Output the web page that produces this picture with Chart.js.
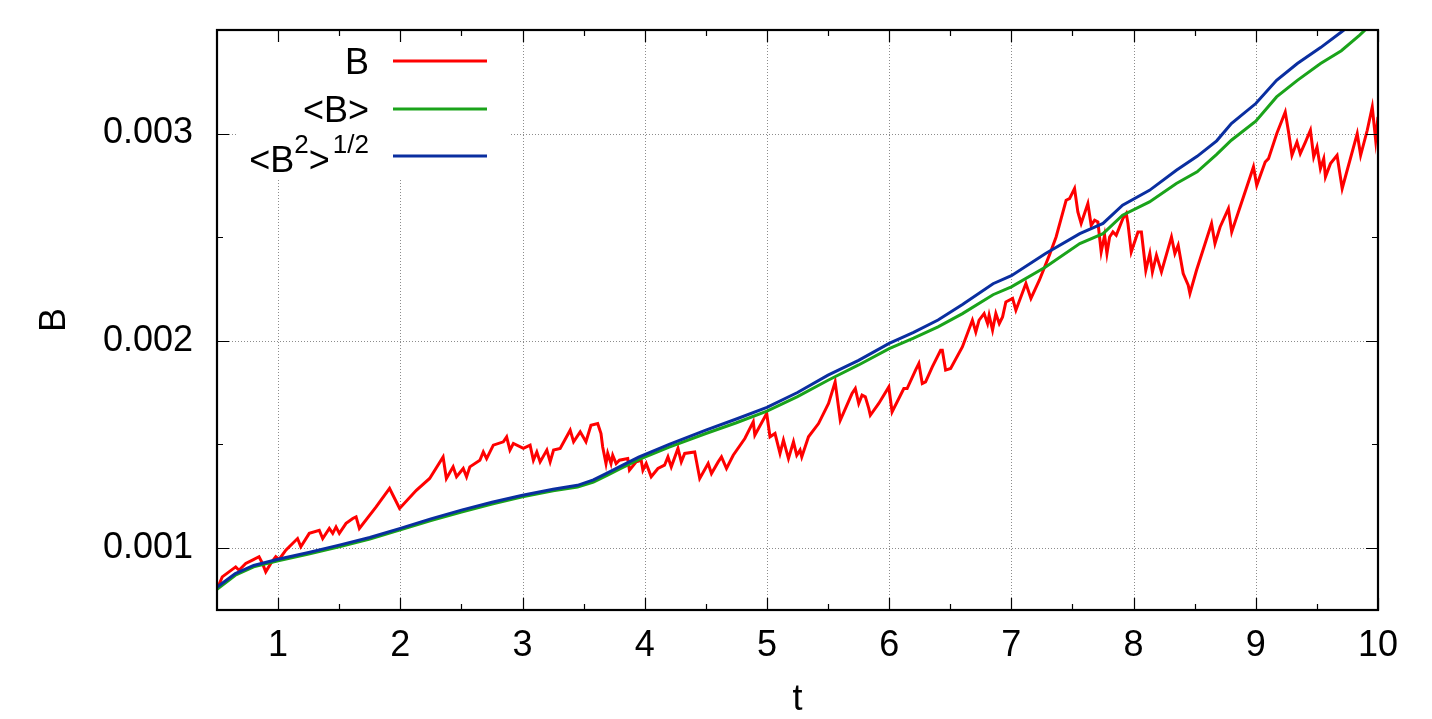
<!DOCTYPE html>
<html>
<head>
<meta charset="utf-8">
<script src="https://cdn.jsdelivr.net/npm/chart.js@4.4.0/dist/chart.umd.min.js"></script>
<style>
  html, body { margin: 0; padding: 0; background: #fff; }
  #wrap { width: 1432px; height: 719px; }
</style>
</head>
<body>
<div id="wrap"><canvas id="graphCanvas" width="1432" height="719"></canvas></div>
<script>
// values of B are in units of 1e-3
var SCALE = 1e-3;

var tRed = [0.5, 0.543, 0.598, 0.653, 0.680, 0.735, 0.790, 0.844, 0.872, 0.899, 0.940, 0.981, 1.008, 1.063, 1.159, 1.186, 1.255, 1.337, 1.365, 1.419,
  1.447, 1.474, 1.501, 1.556, 1.611, 1.638, 1.665, 1.802, 1.912, 1.940, 1.994, 2.131, 2.240, 2.350, 2.377, 2.432, 2.460, 2.515, 2.542, 2.569,
  2.651, 2.679, 2.706, 2.761, 2.843, 2.870, 2.897, 2.925, 3.007, 3.062, 3.089, 3.117, 3.144, 3.199, 3.226, 3.254, 3.308, 3.390, 3.418, 3.472,
  3.519, 3.560, 3.615, 3.642, 3.656, 3.683, 3.697, 3.724, 3.738, 3.766, 3.793, 3.861, 3.875, 3.930, 3.971, 3.985, 4.012, 4.053, 4.108, 4.162,
  4.190, 4.217, 4.272, 4.299, 4.327, 4.409, 4.450, 4.519, 4.546, 4.601, 4.628, 4.669, 4.724, 4.819, 4.888, 4.901, 4.998, 5.025, 5.066, 5.107,
  5.135, 5.176, 5.217, 5.244, 5.271, 5.285, 5.340, 5.422, 5.504, 5.558, 5.600, 5.696, 5.723, 5.751, 5.778, 5.805, 5.833, 5.846, 5.915, 5.997,
  6.024, 6.120, 6.147, 6.216, 6.243, 6.271, 6.298, 6.353, 6.421, 6.435, 6.462, 6.503, 6.599, 6.681, 6.709, 6.736, 6.777, 6.805, 6.818, 6.846,
  6.873, 6.901, 6.928, 6.955, 7.010, 7.037, 7.119, 7.160, 7.229, 7.311, 7.366, 7.448, 7.476, 7.517, 7.544, 7.571, 7.626, 7.653, 7.681, 7.708,
  7.735, 7.763, 7.782, 7.804, 7.831, 7.858, 7.913, 7.940, 7.954, 7.981, 8.036, 8.064, 8.100, 8.133, 8.154, 8.187, 8.228, 8.310, 8.338, 8.365,
  8.406, 8.447, 8.461, 8.515, 8.638, 8.666, 8.708, 8.776, 8.803, 8.981, 9.008, 9.077, 9.104, 9.172, 9.241, 9.268, 9.296, 9.337, 9.364, 9.406,
  9.447, 9.474, 9.501, 9.529, 9.556, 9.570, 9.611, 9.665, 9.707, 9.830, 9.858, 9.912, 9.953, 9.981, 10.0];
var bRed = [0.800, 0.860, 0.884, 0.908, 0.892, 0.925, 0.941, 0.957, 0.925, 0.884, 0.925, 0.957, 0.944, 0.989, 1.045, 1.005, 1.070, 1.085, 1.045, 1.094,
  1.070, 1.101, 1.070, 1.118, 1.142, 1.150, 1.094, 1.198, 1.287, 1.254, 1.190, 1.278, 1.335, 1.439, 1.335, 1.391, 1.343, 1.383, 1.343, 1.391,
  1.423, 1.463, 1.431, 1.496, 1.512, 1.536, 1.472, 1.504, 1.480, 1.496, 1.423, 1.463, 1.415, 1.472, 1.415, 1.472, 1.480, 1.568, 1.512, 1.560,
  1.512, 1.592, 1.600, 1.552, 1.487, 1.407, 1.456, 1.407, 1.447, 1.407, 1.423, 1.431, 1.375, 1.415, 1.423, 1.375, 1.407, 1.343, 1.383, 1.399,
  1.439, 1.391, 1.480, 1.415, 1.456, 1.463, 1.335, 1.407, 1.359, 1.415, 1.439, 1.383, 1.447, 1.528, 1.608, 1.544, 1.649, 1.536, 1.552, 1.456,
  1.520, 1.431, 1.512, 1.447, 1.472, 1.439, 1.536, 1.600, 1.697, 1.801, 1.616, 1.745, 1.769, 1.697, 1.737, 1.729, 1.673, 1.640, 1.697, 1.777,
  1.656, 1.769, 1.769, 1.858, 1.890, 1.793, 1.801, 1.874, 1.954, 1.954, 1.858, 1.866, 1.970, 2.099, 2.042, 2.099, 2.131, 2.083, 2.123, 2.051,
  2.131, 2.083, 2.115, 2.187, 2.204, 2.147, 2.276, 2.204, 2.292, 2.413, 2.501, 2.678, 2.686, 2.735, 2.622, 2.566, 2.662, 2.557, 2.582, 2.573,
  2.429, 2.509, 2.421, 2.501, 2.525, 2.509, 2.590, 2.614, 2.566, 2.429, 2.525, 2.525, 2.340, 2.421, 2.332, 2.413, 2.332, 2.501, 2.421, 2.461,
  2.324, 2.268, 2.228, 2.340, 2.566, 2.469, 2.549, 2.638, 2.525, 2.839, 2.750, 2.863, 2.879, 3.000, 3.104, 3.008, 2.895, 2.959, 2.903, 2.959,
  3.016, 2.887, 2.935, 2.831, 2.879, 2.791, 2.855, 2.895, 2.735, 3.000, 2.895, 3.016, 3.128, 2.968, 3.080];

var tSmooth = [0.5, 0.65, 0.8, 1, 1.25, 1.5, 1.75, 2, 2.25, 2.5, 2.75, 3, 3.25, 3.45, 3.58, 3.7, 3.8, 3.95, 4.2, 4.5, 4.75,
  5, 5.25, 5.5, 5.75, 6, 6.2, 6.4, 6.6, 6.85, 7, 7.28, 7.56, 7.75, 7.91, 8.13, 8.35, 8.52, 8.68, 8.8, 9,
  9.17, 9.34, 9.53, 9.7, 9.85, 10];
var bMean = [0.800, 0.868, 0.908, 0.937, 0.970, 1.005, 1.043, 1.087, 1.132, 1.173, 1.212, 1.246, 1.276, 1.294, 1.318, 1.352, 1.382, 1.426, 1.486, 1.552, 1.604,
  1.660, 1.730, 1.809, 1.883, 1.962, 2.012, 2.067, 2.131, 2.222, 2.260, 2.356, 2.469, 2.517, 2.606, 2.670, 2.759, 2.815, 2.900, 2.968, 3.060,
  3.177, 3.257, 3.338, 3.400, 3.475, 3.560];
var bRms = [0.810, 0.876, 0.915, 0.945, 0.978, 1.013, 1.050, 1.094, 1.140, 1.182, 1.220, 1.254, 1.283, 1.302, 1.328, 1.363, 1.393, 1.438, 1.500, 1.568, 1.622,
  1.678, 1.750, 1.834, 1.905, 1.987, 2.040, 2.100, 2.175, 2.275, 2.314, 2.421, 2.517, 2.566, 2.654, 2.726, 2.823, 2.890, 2.965, 3.048, 3.145,
  3.257, 3.338, 3.415, 3.490, 3.560, 3.640];

var xMajor = [1, 2, 3, 4, 5, 6, 7, 8, 9, 10];
var xMinor = [1.5, 2.5, 3.5, 4.5, 5.5, 6.5, 7.5, 8.5, 9.5];
var yMajor = [0.001, 0.002, 0.003];
var yMinor = [0.0015, 0.0025];

var FONT = "'Liberation Sans', Arial, sans-serif";

function pts(ts, bs) {
    var out = [];
    for (var i = 0; i < ts.length; i++) out.push({x: ts[i], y: bs[i] * SCALE});
    return out;
}

var gnuFrame = {
    id: 'gnuFrame',
    beforeDatasetsDraw: function (chart) {
        var c = chart.ctx, a = chart.chartArea;
        var xs = chart.scales.x, ys = chart.scales.y;
        c.save();
        c.strokeStyle = '#8c8c8c';
        c.lineWidth = 1;
        c.setLineDash([1, 2]);
        xMajor.forEach(function (v) {
            var px = Math.round(xs.getPixelForValue(v)) + 0.5;
            if (px >= a.right - 2) return;
            c.beginPath(); c.moveTo(px, a.top); c.lineTo(px, a.bottom); c.stroke();
        });
        yMajor.forEach(function (v) {
            var py = Math.round(ys.getPixelForValue(v)) + 0.5;
            c.beginPath(); c.moveTo(a.left, py); c.lineTo(a.right, py); c.stroke();
        });
        c.setLineDash([]);
        // opaque key box
        c.fillStyle = '#fff';
        c.fillRect(238, a.top + 1, 272, 148);
        c.restore();
    },
    afterDatasetsDraw: function (chart) {
        var c = chart.ctx, a = chart.chartArea;
        var xs = chart.scales.x, ys = chart.scales.y;
        c.save();
        c.strokeStyle = '#000';
        c.lineWidth = 1.2;
        function xt(v, len) {
            var px = Math.round(xs.getPixelForValue(v)) + 0.5;
            c.beginPath();
            c.moveTo(px, a.bottom); c.lineTo(px, a.bottom - len);
            c.moveTo(px, a.top); c.lineTo(px, a.top + len);
            c.stroke();
        }
        function yt(v, len) {
            var py = Math.round(ys.getPixelForValue(v)) + 0.5;
            c.beginPath();
            c.moveTo(a.left, py); c.lineTo(a.left + len, py);
            c.moveTo(a.right, py); c.lineTo(a.right - len, py);
            c.stroke();
        }
        xMajor.forEach(function (v) { xt(v, 12); });
        xMinor.forEach(function (v) { xt(v, 6); });
        yMajor.forEach(function (v) { yt(v, 12); });
        yMinor.forEach(function (v) { yt(v, 6); });
        c.lineWidth = 2.2;
        c.strokeRect(a.left, a.top, a.right - a.left, a.bottom - a.top);

        // key
        var keyRight = 369, lineX0 = 393, lineX1 = 487;
        var rows = [
            {y: 61, color: chart.data.datasets[0].borderColor, parts: [['B', 0]]},
            {y: 109, color: chart.data.datasets[1].borderColor, parts: [['<B>', 0]]},
            {y: 156, color: chart.data.datasets[2].borderColor, parts: [['<B', 0], ['2', 1], ['>', 0], ['1/2', 1]]}
        ];
        c.fillStyle = '#000';
        c.textBaseline = 'alphabetic';
        c.textAlign = 'left';
        rows.forEach(function (r, i) {
            var w = 0;
            r.parts.forEach(function (p) {
                c.font = (p[1] ? 26 : 36) + 'px ' + FONT;
                w += c.measureText(p[0]).width + (p[1] && p[0] === '1/2' ? 3 : 0);
            });
            var x = keyRight - w;
            var base = r.y + 13 + (i === 2 ? 3 : 0);
            r.parts.forEach(function (p) {
                c.font = (p[1] ? 26 : 36) + 'px ' + FONT;
                if (p[1] && p[0] === '1/2') x += 3;
                c.fillText(p[0], x, p[1] ? base - 19 : base);
                x += c.measureText(p[0]).width;
            });
            c.strokeStyle = r.color;
            c.lineWidth = 3;
            c.beginPath(); c.moveTo(lineX0, r.y); c.lineTo(lineX1, r.y); c.stroke();
        });
        c.restore();
    }
};

var chartdata = {
    datasets: [
        {label: 'B', data: pts(tRed, bRed), borderColor: '#ff0000', order: 3},
        {label: '<B>', data: pts(tSmooth, bMean), borderColor: '#1aa31a', order: 2},
        {label: '<B2>1/2', data: pts(tSmooth, bRms), borderColor: '#0a2ea0', order: 1}
    ]
};
chartdata.datasets.forEach(function (d) {
    d.showLine = true;
    d.borderWidth = 3;
    d.pointRadius = 0;
    d.tension = 0;
    d.fill = false;
});

var target = document.getElementById('graphCanvas');
var graph = new Chart(target, {
    type: 'scatter',
    data: chartdata,
    options: {
        responsive: false,
        animation: false,
        layout: {padding: {top: 30, right: 54, left: 0, bottom: 0}},
        plugins: {legend: {display: false}, tooltip: {enabled: false}},
        scales: {
            x: {
                type: 'linear', min: 0.5, max: 10,
                grid: {display: false, drawTicks: false},
                border: {display: false},
                afterBuildTicks: function (s) { s.ticks = xMajor.map(function (v) { return {value: v}; }); },
                afterFit: function (s) { s.height = 109; s.paddingLeft = 0; s.paddingRight = 0; },
                ticks: {
                    color: '#000', padding: 14, maxRotation: 0, autoSkip: false,
                    font: {family: FONT, size: 36},
                    callback: function (v) { return String(v); }
                },
                title: {display: true, text: 't', color: '#000', font: {family: FONT, size: 36, lineHeight: 1}, padding: {top: 0, bottom: 1}}
            },
            y: {
                type: 'linear', min: 0.0007, max: 0.0035,
                grid: {display: false, drawTicks: false},
                border: {display: false},
                afterBuildTicks: function (s) { s.ticks = yMajor.map(function (v) { return {value: v}; }); },
                afterFit: function (s) { s.width = 217; s.paddingTop = 0; s.paddingBottom = 0; },
                ticks: {
                    color: '#000', padding: 24, autoSkip: false,
                    font: {family: FONT, size: 36},
                    callback: function (v) { return v.toFixed(3); }
                },
                title: {display: true, text: 'B', color: '#000', font: {family: FONT, size: 36}, padding: {top: 33, bottom: 0}}
            }
        }
    },
    plugins: [gnuFrame]
});
</script>
</body>
</html>
